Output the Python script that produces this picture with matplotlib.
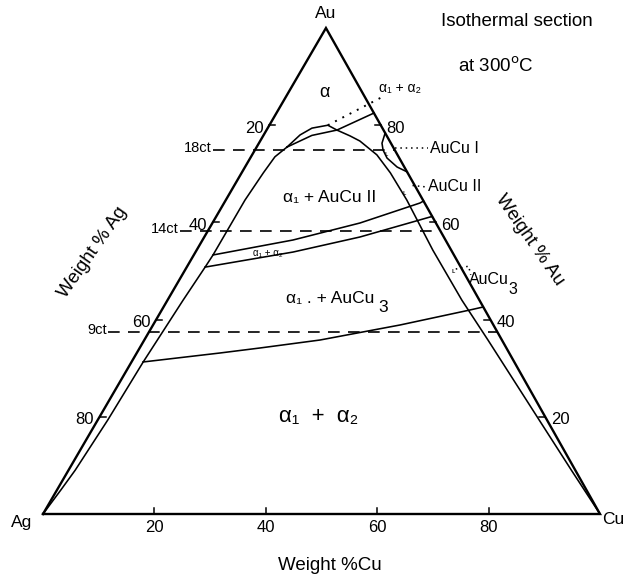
import numpy as np
import matplotlib.pyplot as plt

# Ag-Au-Cu isothermal section at 300 C, compositions in weight %
# projection: Ag at (0, 0), Cu at (1, 0), Au at (APEX_X, APEX_Y)
APEX_X = 0.508
APEX_Y = 0.8725


def tern(cu, au):
    cu = np.asarray(cu, dtype=float) / 100.0
    au = np.asarray(au, dtype=float) / 100.0
    return cu + APEX_X * au, APEX_Y * au


# alpha1 solvus along the Ag-Au side
alpha1_cu = [0, 0.7, 1.2, 1.8, 2.1, 2.8, 3.3, 3.45, 3.45, 3.9, 4.3, 5.45]
alpha1_au = [0, 5, 9, 19.3, 31.3, 44.0, 50.8, 53.3, 64.6, 70.2, 73.5, 75.5]

# dome over the alpha1 + ordered phase fields, down to the Cu corner
dome_cu = [5.45, 8.7, 12.64, 15.6, 17.9, 22.4, 26.7, 32.5, 42.4, 52.85, 61.7, 79.3, 90.3, 100]
dome_au = [75.5, 77.9, 79.0, 77.8, 76.75, 73.9, 70.2, 64.6, 54.3, 44.0, 35.8, 19.3, 9.0, 0]

# alpha1 + alpha2 lens at the top of the dome
lens_cu = [5.45, 6.53, 7.95, 10.5, 12.64]
lens_au = [75.5, 78.0, 79.4, 80.0, 79.0]
tie_cu = [12.64, 17.5]
tie_au = [79.0, 82.5]
meta_cu = [10.5, 17.3]
meta_au = [80.0, 85.8]

# AuCu I field on the Au-Cu side
aucu1_cu = [21.6, 22.1, 23.0, 24.55, 27.3, 29.6]
aucu1_au = [78.4, 76.3, 74.9, 73.25, 71.4, 70.4]

# narrow alpha1 + alpha2 band between AuCu II and AuCu3
band_hi_cu = [3.45, 16.24, 26.49, 35.17, 35.6]
band_hi_au = [53.3, 56.38, 59.88, 63.99, 64.4]
band_lo_cu = [3.28, 17.5, 27.95, 38.44, 38.8]
band_lo_au = [50.8, 53.9, 57.0, 61.11, 61.2]

# alpha1 + AuCu3 / alpha1 + alpha2 boundary
aucu3_cu = [2.06, 14.95, 21.6, 31.54, 44.33, 55.33, 57.4]
aucu3_au = [31.28, 33.13, 34.16, 35.8, 38.89, 41.98, 42.6]

# carat gold lines
carats = [18, 14, 9]
carat_start_cu = [-7.6, -5.0, -7.4]

ticks = [20, 40, 60, 80]

FONT = ['Liberation Sans', 'DejaVu Sans']
PT = 0.72  # points per pixel at 100 dpi

fig = plt.figure(figsize=(6.25, 5.77), dpi=100)
ax = fig.add_axes([0, 0, 1, 1])
ax.set_xlim(-43 / 557, 582 / 557)
ax.set_ylim(-63 / 557, 514 / 557)
ax.axis('off')

# outer triangle
ax.plot(*tern([0, 100, 0, 0], [0, 0, 100, 0]), color='k', lw=1.7,
        solid_joinstyle='miter')

# phase boundaries
for c, a in [(alpha1_cu, alpha1_au), (dome_cu, dome_au), (lens_cu, lens_au),
             (tie_cu, tie_au), (aucu1_cu, aucu1_au), (band_hi_cu, band_hi_au),
             (band_lo_cu, band_lo_au), (aucu3_cu, aucu3_au)]:
    ax.plot(*tern(c, a), color='k', lw=1.15)
ax.plot(*tern(meta_cu, meta_au), color='k', lw=1.4, ls=(0, (1, 3.2)))

# carat lines
for ct, c0 in zip(carats, carat_start_cu):
    au = ct / 24 * 100
    ax.plot(*tern([c0, 100 - au], [au, au]), color='k', lw=1.2, ls=(0, (7, 5)))
    ax.annotate('%dct' % ct, tern(c0, au), xytext=(-1, 2 * PT),
                textcoords='offset points', ha='right', va='center',
                fontsize=10.5, family=FONT)

# ticks and tick labels on the three sides
for v in ticks:
    # Cu along the base
    x, y = tern(v, 0)
    ax.plot([x, x], [y, y + 6 / 557], color='k', lw=1.1)
    ax.annotate(str(v), (x, y), xytext=(0, -14 * PT), textcoords='offset points',
                ha='center', va='center', fontsize=12, family=FONT)
    # Ag along the left side
    x, y = tern(0, 100 - v)
    ax.plot([x, x + 6 / 557], [y, y], color='k', lw=1.1)
    ax.annotate(str(v), (x, y), xytext=(-15 * PT, -3 * PT), textcoords='offset points',
                ha='center', va='center', fontsize=12, family=FONT)
    # Au along the right side
    x, y = tern(100 - v, v)
    ax.plot([x, x - 6 / 557], [y, y], color='k', lw=1.1)
    ax.annotate(str(v), (x, y), xytext=(15 * PT, -3 * PT), textcoords='offset points',
                ha='center', va='center', fontsize=12, family=FONT)

# corner labels
ax.annotate('Au', tern(0, 100), xytext=(0, 15 * PT), textcoords='offset points',
            ha='center', va='center', fontsize=12.5, family=FONT)
ax.annotate('Ag', tern(0, 0), xytext=(-21 * PT, -9 * PT), textcoords='offset points',
            ha='center', va='center', fontsize=12.5, family=FONT)
ax.annotate('Cu', tern(100, 0), xytext=(13 * PT, -6 * PT), textcoords='offset points',
            ha='center', va='center', fontsize=12.5, family=FONT)

# axis titles
ax.text(*tern(56.9, -10.5), 'Weight %Cu', ha='center', va='center',
        fontsize=13.5, family=FONT)
ax.text(*tern(-18.4, 53.9), 'Weight % Ag', ha='center', va='center',
        fontsize=13.5, family=FONT, rotation=55)
ax.text(*tern(58.8, 56.4), 'Weight % Au', ha='center', va='center',
        fontsize=13.5, family=FONT, rotation=-55)

fig.text(517 / 625, 1 - 22 / 577, 'Isothermal section', ha='center', va='center',
         fontsize=13.5, family=FONT)
fig.text(496 / 625, 1 - 66 / 577, 'at 300$^{\\rm o}$C', ha='center', va='center',
         fontsize=13.5, family=FONT)


def label(cu, au, s, size, **kw):
    kw.setdefault('ha', 'center')
    ax.text(*tern(cu, au), s, va='center', fontsize=size, family=FONT, **kw)


# phase field labels
label(6.5, 86.8, 'α', 13)
label(19.6, 87.65, 'α₁ + α₂', 10)
label(18.4, 65.2, 'α₁ + AuCu II', 12.5)
label(13.1, 53.7, 'α₁ + α₂', 7)
label(37.0, 44.44, 'α₁ . + AuCu', 12.5, ha='right')
label(38.6, 42.39, '3', 12.5, ha='left')
label(39.4, 19.96, 'α₁  +  α₂', 16)
label(31.2, 75.3, 'AuCu I', 11.5, ha='left')
label(34.9, 67.3, 'AuCu II', 11.5, ha='left')
label(52.0, 48.15, 'AuCu', 11.5, ha='left')
label(60.2, 46.1, '3', 11.5, ha='left')

# leaders to the small single-phase fields
ax.plot(*tern([25.0, 30.8], [75.3, 75.3]), color='k', lw=1.1, ls=(0, (1, 2.5)))
ax.plot(*tern([32.0, 34.6], [67.6, 67.3]), color='k', lw=1.1, ls=(0, (1, 2.5)))
ax.plot(*tern([48.5, 50.5, 51.8], [50.4, 51.0, 49.2]), color='k', lw=1.1, ls=(0, (1, 2.5)))
label(24.0, 74.0, 'ʟ', 6)
label(31.3, 66.0, 'ʟ', 6)
label(48.2, 50.0, 'ʟ', 6)

fig.savefig('out.png', dpi=100, facecolor='white')
